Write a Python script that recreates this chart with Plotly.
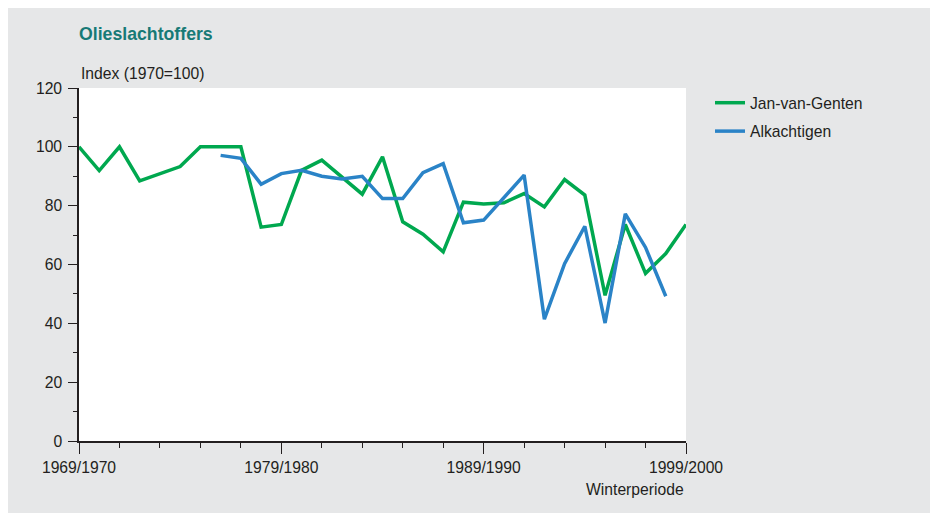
import plotly.graph_objects as go

# Winter seasons (start year of season)
seasons = list(range(1969, 2000))
season_labels = [f"{y}/{y+1}" for y in seasons]

jan_van_genten = [100, 91.9, 100, 88.4, None, 93.3, 100, 100, 100, 72.7,
                  73.6, 92.0, 95.5, None, 83.9, 96.6, 74.5, 70.3, 64.3, 81.2,
                  80.6, 81.0, 84.1, 79.6, 88.9, 83.6, 49.5, 73.6, 57.0, 63.7,
                  73.6]
alkachtigen = [None, None, None, None, None, None, None, 97.1, 96.1, 87.3,
               90.9, 92.0, 90.0, 89.1, 90.0, 82.4, 82.4, 91.2, 94.3, 74.2,
               75.1, None, 90.4, 41.4, 60.3, 73.0, 40.1, 77.2, 65.8, 49.2,
               None]

y_ticks = [0, 20, 40, 60, 80, 100, 120]
x_tick_years = [1969, 1979, 1989, 1999]
x_tick_labels = ["1969/1970", "1979/1980", "1989/1990", "1999/2000"]

FONT = "Liberation Sans, Arial, sans-serif"
FS = 15.7
TXT = "#231f20"

fig = go.Figure()
fig.add_trace(go.Scatter(x=seasons, y=jan_van_genten, mode="lines", name="Jan-van-Genten",
                         line=dict(color="#00a84f", width=3.5), connectgaps=True,
                         legendgroup="a", customdata=season_labels))
fig.add_trace(go.Scatter(x=seasons, y=alkachtigen, mode="lines", name="Alkachtigen",
                         line=dict(color="#2a83c7", width=3.5), connectgaps=True,
                         legendgroup="b", customdata=season_labels))

# page offset of the figure inside the html body (default body margin)
OFF = 8
W, H = 938, 513 - OFF
L = 79 - OFF
T = 88 - OFF
R = W - (686 - OFF)
B = H - (441 - OFF)
pw, ph = W - L - R, H - T - B

def px_x(p):  # page x pixel -> paper fraction
    return (p - OFF - L) / pw

def px_y(p):  # page y pixel -> paper fraction
    return (H - B - (p - OFF)) / ph

fig.update_layout(
    width=W, height=H,
    margin=dict(l=L, r=R, t=T, b=B),
    paper_bgcolor="#e6e7e8",
    plot_bgcolor="white",
    font=dict(family=FONT, size=FS, color=TXT),
    title=dict(text="<b>Olieslachtoffers</b>", x=0, xref="paper", xanchor="left",
               y=1 - (34 - OFF) / H, yref="container", yanchor="middle",
               font=dict(family=FONT, size=17.7, color="#177a76")),
    showlegend=True,
    legend=dict(x=px_x(710), xanchor="left", y=px_y(86), yanchor="top",
                bgcolor="rgba(0,0,0,0)", tracegroupgap=5,
                font=dict(family=FONT, size=FS, color=TXT)),
    xaxis=dict(range=[1969, 1999], showgrid=False, zeroline=False,
               showline=True, linecolor="#231f20", linewidth=1.5,
               tickmode="array", tickvals=x_tick_years, ticktext=x_tick_labels,
               ticks="outside", ticklen=11, tickwidth=1.3, tickcolor="#231f20",
               minor=dict(tickmode="linear", tick0=1969, dtick=2, ticks="outside",
                          ticklen=5, tickwidth=1.2, tickcolor="#231f20", showgrid=False),
               tickfont=dict(family=FONT, size=FS, color=TXT)),
    yaxis=dict(range=[0, 120], showgrid=False, zeroline=False,
               showline=True, linecolor="#231f20", linewidth=1.5,
               tickmode="array", tickvals=y_ticks,
               ticks="outside", ticklen=9, tickwidth=1.3, tickcolor="#231f20",
               ticklabelstandoff=3,
               minor=dict(tickmode="linear", tick0=0, dtick=10, ticks="outside",
                          ticklen=4, tickwidth=1.2, tickcolor="#231f20", showgrid=False),
               tickfont=dict(family=FONT, size=FS, color=TXT)),
    annotations=[
        dict(text="Index (1970=100)", xref="paper", yref="paper", x=0, y=px_y(74),
             xanchor="left", yanchor="middle", showarrow=False,
             font=dict(family=FONT, size=FS, color=TXT)),
        dict(text="Winterperiode", xref="paper", yref="paper", x=1 - 0 / pw, y=px_y(490),
             xanchor="right", yanchor="middle", showarrow=False,
             font=dict(family=FONT, size=FS, color=TXT)),
    ],
)

fig.write_html("out.html")
